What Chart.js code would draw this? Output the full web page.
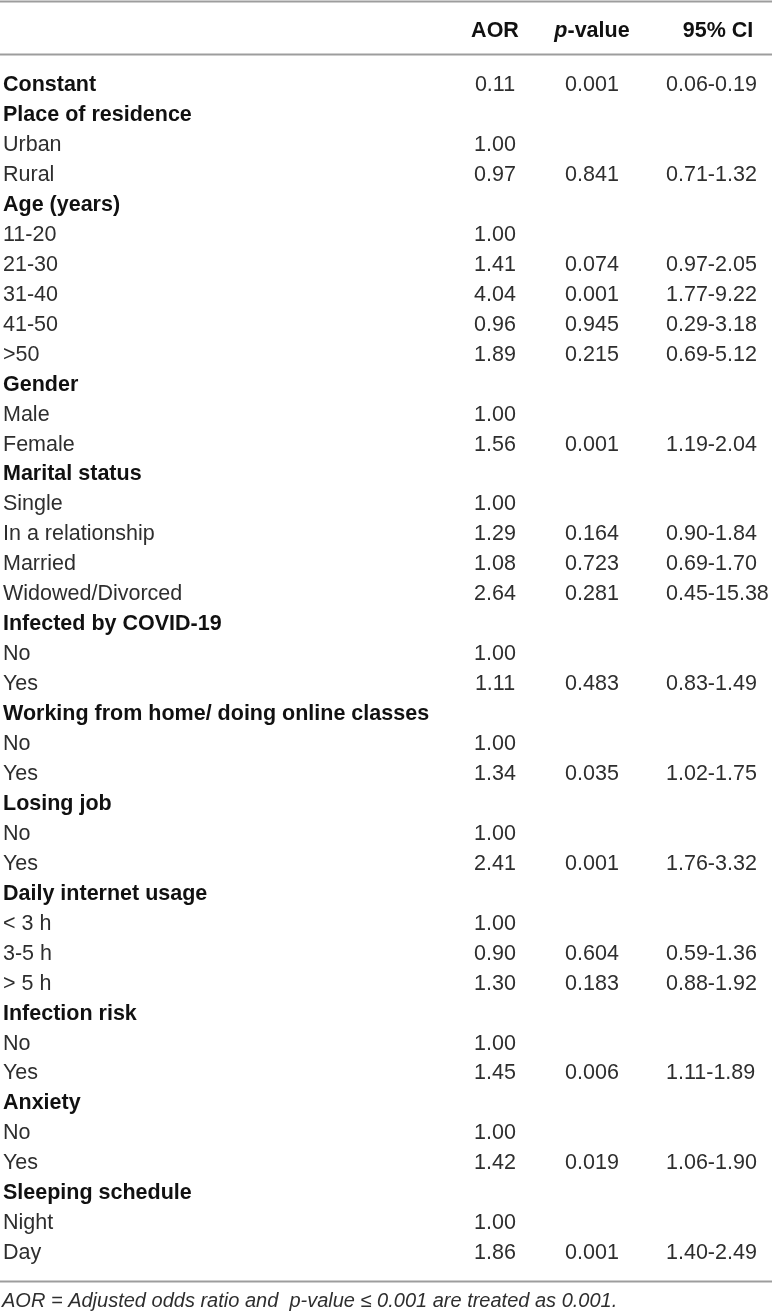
<!DOCTYPE html>
<html>
<head>
<meta charset="utf-8">
<script src="https://cdn.jsdelivr.net/npm/chart.js@4.4.0/dist/chart.umd.min.js"></script>
<style>
  html, body { margin: 0; padding: 0; background: #fff; }
  #wrap { width: 772px; height: 1313px; position: relative; }
</style>
</head>
<body>
<div id="wrap"><canvas id="tableChart"></canvas></div>
<script>
// table rows (top to bottom)
var rowLabels = ['Constant', 'Place of residence', 'Urban', 'Rural', 'Age (years)', '11-20', '21-30', '31-40', '41-50', '>50',
    'Gender', 'Male', 'Female', 'Marital status', 'Single', 'In a relationship', 'Married', 'Widowed/Divorced',
    'Infected by COVID-19', 'No', 'Yes', 'Working from home/ doing online classes', 'No', 'Yes',
    'Losing job', 'No', 'Yes', 'Daily internet usage', '< 3 h', '3-5 h', '> 5 h',
    'Infection risk', 'No', 'Yes', 'Anxiety', 'No', 'Yes', 'Sleeping schedule', 'Night', 'Day'];
var headingRows = [0, 1, 4, 10, 13, 18, 21, 24, 27, 31, 34, 37];

var aor = [0.11, null, 1.00, 0.97, null, 1.00, 1.41, 4.04, 0.96, 1.89,
    null, 1.00, 1.56, null, 1.00, 1.29, 1.08, 2.64,
    null, 1.00, 1.11, null, 1.00, 1.34,
    null, 1.00, 2.41, null, 1.00, 0.90, 1.30,
    null, 1.00, 1.45, null, 1.00, 1.42, null, 1.00, 1.86];
var pValue = [0.001, null, null, 0.841, null, null, 0.074, 0.001, 0.945, 0.215,
    null, null, 0.001, null, null, 0.164, 0.723, 0.281,
    null, null, 0.483, null, null, 0.035,
    null, null, 0.001, null, null, 0.604, 0.183,
    null, null, 0.006, null, null, 0.019, null, null, 0.001];
var ciLow = [0.06, null, null, 0.71, null, null, 0.97, 1.77, 0.29, 0.69,
    null, null, 1.19, null, null, 0.90, 0.69, 0.45,
    null, null, 0.83, null, null, 1.02,
    null, null, 1.76, null, null, 0.59, 0.88,
    null, null, 1.11, null, null, 1.06, null, null, 1.40];
var ciHigh = [0.19, null, null, 1.32, null, null, 2.05, 9.22, 3.18, 5.12,
    null, null, 2.04, null, null, 1.84, 1.70, 15.38,
    null, null, 1.49, null, null, 1.75,
    null, null, 3.32, null, null, 1.36, 1.92,
    null, null, 1.89, null, null, 1.90, null, null, 2.49];

var footnote = 'AOR = Adjusted odds ratio and  p-value \u2264 0.001 are treated as 0.001.';

var FONT = '"Liberation Sans", Arimo, Helvetica, Arial, sans-serif';

// column anchors on the x scale, rows on the y scale
var COL = { label: 3, aor: 495, p: 592, ciLeft: 666, ciHead: 718 };
var Y_HEADER = -1.82, Y_TOP_RULE = -2.75, Y_HEAD_RULE = -0.985, Y_BOTTOM_RULE = 39.98, Y_NOTE = 40.62;

function textAt(ctx, str, x, y, font, color, align) {
    ctx.font = font;
    ctx.fillStyle = color;
    ctx.textAlign = align || 'left';
    ctx.textBaseline = 'alphabetic';
    ctx.fillText(str, x, y);
}

var tablePlugin = {
    id: 'tableText',
    afterDatasetsDraw: function(chart) {
        var ctx = chart.ctx;
        var xs = chart.scales.x, ys = chart.scales.y;
        var size = 21.5;
        var off = size * 0.355;   // cap centre -> baseline
        var regular = size + 'px ' + FONT;
        var bold = 'bold ' + size + 'px ' + FONT;
        ctx.save();

        // rules
        ctx.strokeStyle = '#9d9d9d';
        ctx.lineWidth = 2;
        [Y_TOP_RULE, Y_HEAD_RULE, Y_BOTTOM_RULE].forEach(function(v) {
            var py = Math.round(ys.getPixelForValue(v)) + 0.5;
            ctx.beginPath();
            ctx.moveTo(xs.left, py);
            ctx.lineTo(xs.right, py);
            ctx.stroke();
        });

        // header
        var hy = ys.getPixelForValue(Y_HEADER) + off;
        textAt(ctx, 'AOR', xs.getPixelForValue(COL.aor), hy, bold, '#111', 'center');
        ctx.font = 'italic ' + bold;
        var wp = ctx.measureText('p').width;
        ctx.font = bold;
        var wr = ctx.measureText('-value').width;
        var px = xs.getPixelForValue(COL.p) - (wp + wr) / 2;
        textAt(ctx, 'p', px, hy, 'italic ' + bold, '#111', 'left');
        textAt(ctx, '-value', px + wp, hy, bold, '#111', 'left');
        textAt(ctx, '95% CI', xs.getPixelForValue(COL.ciHead), hy, bold, '#111', 'center');

        // body rows
        chart.data.datasets[0].data.forEach(function(pt, i) {
            var y = ys.getPixelForValue(pt.y) + off;
            var isHead = headingRows.indexOf(i) >= 0;
            textAt(ctx, rowLabels[i], xs.getPixelForValue(COL.label), y,
                isHead ? bold : regular, isHead ? '#111' : '#2e2e2e', 'left');
            if (aor[i] !== null)
                textAt(ctx, aor[i].toFixed(2), xs.getPixelForValue(COL.aor), y, regular, '#2e2e2e', 'center');
            if (pValue[i] !== null)
                textAt(ctx, pValue[i].toFixed(3), xs.getPixelForValue(COL.p), y, regular, '#2e2e2e', 'center');
            if (ciLow[i] !== null)
                textAt(ctx, ciLow[i].toFixed(2) + '-' + ciHigh[i].toFixed(2), xs.getPixelForValue(COL.ciLeft), y, regular, '#2e2e2e', 'left');
        });

        // footnote
        textAt(ctx, footnote, xs.getPixelForValue(COL.label) - 1, ys.getPixelForValue(Y_NOTE) + 20 * 0.355,
            'italic 20px ' + FONT, '#2e2e2e', 'left');
        ctx.restore();
    }
};

var ctx = document.getElementById('tableChart').getContext('2d');
var tableChart = new Chart(ctx, {
    type: 'scatter',
    data: {
        datasets: [{
            label: 'rows',
            data: rowLabels.map(function(_, i) { return { x: COL.label, y: i }; }),
            pointRadius: 0,
            pointHoverRadius: 0
        }]
    },
    options: {
        responsive: true,
        maintainAspectRatio: false,
        animation: false,
        events: [],
        layout: { padding: 0 },
        plugins: { legend: { display: false }, tooltip: { enabled: false } },
        scales: {
            x: { type: 'linear', display: false, min: 0, max: 772 },
            y: { type: 'linear', display: false, reverse: true, min: -83.5 / 29.95, max: (1313 - 83.5) / 29.95 }
        }
    },
    plugins: [tablePlugin]
});
</script>
</body>
</html>
